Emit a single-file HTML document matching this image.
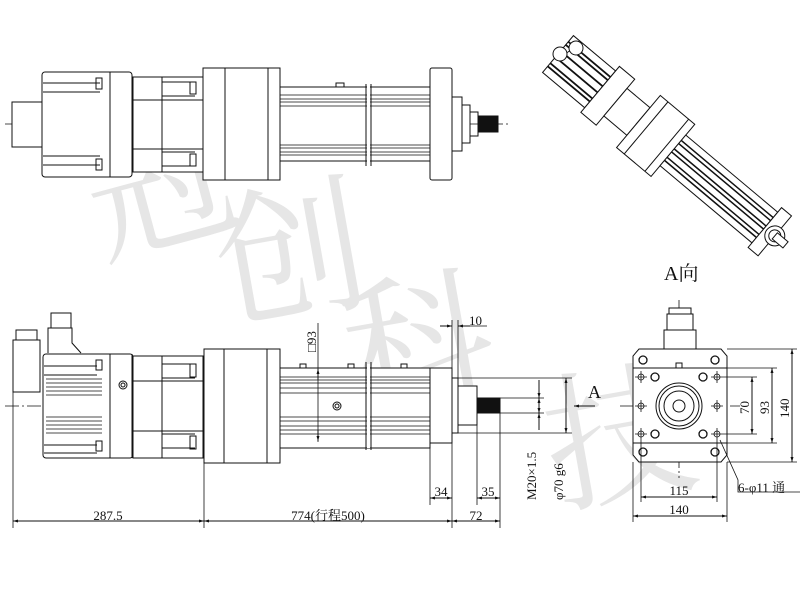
<!DOCTYPE html>
<html><head><meta charset="utf-8"><style>
html,body{margin:0;padding:0;background:#fff;width:800px;height:600px;overflow:hidden}
svg{display:block}
text{font-family:"Liberation Serif","Noto Serif CJK SC",serif;fill:#111}
</style></head><body>
<svg width="800" height="600" viewBox="0 0 800 600" xmlns="http://www.w3.org/2000/svg">
<defs>
<marker id="a" viewBox="0 0 10 10" refX="10" refY="5" markerWidth="6" markerHeight="5" orient="auto-start-reverse"><path d="M0,2 L10,5 L0,8z" fill="#111"/></marker>
</defs>
<!-- watermark -->
<g font-family="'Noto Serif CJK SC',serif" font-size="150">
<text x="80" y="240" transform="rotate(-15 150 170)" style="fill:#e6e6e6">冠</text>
<text x="215" y="310" transform="rotate(-10 280 250)" style="fill:#e6e6e6">创</text>
<text x="340" y="400" transform="rotate(-10 400 330)" style="fill:#e6e6e6">科</text>
<text x="540" y="490" transform="rotate(-10 620 410)" style="fill:#e6e6e6">技</text>
</g>
<g fill="none" stroke="#111" stroke-width="1">
<!-- TOP VIEW -->
<line x1="5" y1="124" x2="510" y2="124" stroke-dasharray="14,3,2,3" stroke-width="0.8"/>
<rect x="12" y="102" width="30" height="45" fill="#fff"/>
<rect x="42" y="72" width="90" height="105" rx="3" fill="#fff"/>
<line x1="110" y1="72" x2="110" y2="177"/>
<path d="M43,83H100 M43,92H100 M43,156H100 M43,165H100"/>
<rect x="96" y="78" width="6" height="11"/><rect x="96" y="159" width="6" height="11"/>
<rect x="133" y="77" width="70" height="95" fill="#fff"/>
<line x1="162" y1="77" x2="162" y2="172"/>
<path d="M133,100H203 M133,149H203 M162,82H195 M162,96H195 M162,152H195 M162,166H195"/>
<rect x="190" y="82" width="6" height="12"/><rect x="190" y="154" width="6" height="12"/>
<rect x="203" y="68" width="77" height="112" fill="#fff"/>
<line x1="225" y1="68" x2="225" y2="180"/><line x1="268" y1="68" x2="268" y2="180"/>
<rect x="280" y="87" width="150" height="74" fill="#fff"/>
<path d="M280,95H430 M280,99H430 M280,102H430 M280,106H430 M280,145H430 M280,148H430 M280,152H430 M280,155H430" stroke-width="0.8"/>
<rect x="336" y="83" width="8" height="4"/>
<path d="M366,84V166 M371,84V166" stroke="#111"/>
<rect x="367" y="85" width="3" height="80" fill="#fff" stroke="none"/>
<rect x="430" y="68" width="22" height="112" rx="2" fill="#fff"/>
<rect x="452" y="97" width="10" height="54" fill="#fff"/>
<rect x="462" y="105" width="8" height="38" fill="#fff"/>
<rect x="470" y="112" width="8" height="24"/>
<rect x="478" y="116" width="20" height="16" fill="#111"/>
<!-- BOTTOM VIEW -->
<line x1="5" y1="406" x2="470" y2="406" stroke-dasharray="14,3,2,3" stroke-width="0.8"/>
<rect x="13" y="340" width="27" height="52" fill="#fff"/>
<rect x="16" y="330" width="21" height="10" fill="#fff"/>
<path d="M48,353V328H72V343L81,353" fill="#fff"/>
<rect x="51" y="313" width="20" height="15" fill="#fff"/>
<rect x="43" y="354" width="90" height="104" rx="3" fill="#fff"/>
<path d="M110,354V458 M132,354V458"/>
<path d="M44,366H97 M44,375H97 M44,445H97 M44,453H97"/>
<path d="M46,379H102 M46,383H102 M46,387H102 M46,391H102 M46,395H102 M46,417H102 M46,421H102 M46,425H102 M46,429H102 M46,433H102" stroke-width="0.8"/>
<rect x="96" y="360" width="6" height="10"/><rect x="96" y="441" width="6" height="10"/>
<circle cx="123" cy="385" r="4"/><circle cx="123" cy="385" r="2"/>
<rect x="133" y="356" width="70" height="102" fill="#fff"/>
<path d="M133,381H203 M133,431H203 M162,356V458 M162,364H195 M162,378H195 M162,434H195 M162,448H195"/>
<rect x="190" y="364" width="6" height="13"/><rect x="190" y="436" width="6" height="13"/>
<rect x="204" y="349" width="76" height="114" fill="#fff"/>
<path d="M224,349V463 M267,349V463"/>
<rect x="280" y="368" width="150" height="80" fill="#fff"/>
<path d="M280,377H430 M280,380H430 M280,383H430 M280,388H430 M280,393H430 M280,417H430 M280,421H430 M280,426H430 M280,430H430 M280,434H430" stroke-width="0.8"/>
<rect x="300" y="364" width="6" height="4"/><rect x="348" y="364" width="6" height="4"/><rect x="401" y="364" width="6" height="4"/>
<circle cx="337" cy="406" r="4"/><circle cx="337" cy="406" r="2"/>
<path d="M366,362V450 M371,362V450"/>
<rect x="367" y="364" width="3" height="84" fill="#fff" stroke="none"/>
<rect x="430" y="368" width="22" height="75" fill="#fff"/>
<rect x="452" y="378" width="6" height="55" fill="#fff"/>
<rect x="458" y="386" width="19" height="39" fill="#fff"/>
<rect x="477" y="398" width="23" height="15" fill="#111"/>
<!-- dims bottom -->
<path d="M13,392V528 M204,463V528 M452,443V528 M500,413V528 M430,443V505 M477,425V505 M452,320V368 M458,320V378" stroke-width="0.8"/>
<line x1="13" y1="521" x2="204" y2="521" marker-start="url(#a)" marker-end="url(#a)"/>
<line x1="204" y1="521" x2="452" y2="521" marker-start="url(#a)" marker-end="url(#a)"/>
<line x1="452" y1="521" x2="500" y2="521" marker-start="url(#a)" marker-end="url(#a)"/>
<line x1="430" y1="498" x2="452" y2="498" marker-start="url(#a)" marker-end="url(#a)"/>
<line x1="477" y1="498" x2="500" y2="498" marker-start="url(#a)" marker-end="url(#a)"/>
<path d="M440,326H452 M458,326H487" stroke-width="0.8"/>
<path d="M440,326L452,326" marker-end="url(#a)"/><path d="M470,326L458,326" marker-end="url(#a)"/>
<line x1="318" y1="323" x2="318" y2="442" stroke-width="0.8"/>
<path d="M318,380V369" marker-end="url(#a)"/><path d="M318,430V441" marker-end="url(#a)"/>
<path d="M500,398H544 M500,413H544 M458,378H572 M458,433H572" stroke-width="0.8"/>
<line x1="539" y1="398" x2="539" y2="413" marker-start="url(#a)" marker-end="url(#a)"/>
<line x1="539" y1="380" x2="539" y2="398" marker-end="url(#a)"/>
<line x1="539" y1="430" x2="539" y2="413" marker-end="url(#a)"/>
<line x1="566" y1="378" x2="566" y2="433" marker-start="url(#a)" marker-end="url(#a)"/>
<line x1="595" y1="406" x2="574" y2="406" marker-end="url(#a)"/>
<!-- A VIEW -->
<line x1="679" y1="300" x2="679" y2="478" stroke-dasharray="14,3,2,3" stroke-width="0.8"/>
<line x1="620" y1="406" x2="740" y2="406" stroke-dasharray="14,3,2,3" stroke-width="0.8"/>
<rect x="664" y="330" width="32" height="19" fill="#fff"/>
<rect x="667" y="314" width="26" height="16" fill="#fff"/>
<rect x="669" y="308" width="22" height="6" fill="#fff"/>
<path d="M639,349H721L727,356V455L721,462H639L633,455V356Z" fill="#fff"/>
<path d="M633,368H727 M633,443H727"/>
<circle cx="679" cy="406" r="23"/><circle cx="679" cy="406" r="20"/><circle cx="679" cy="406" r="15"/><circle cx="679" cy="406" r="6"/>
<rect x="676" y="363" width="6" height="5"/>
<g stroke-width="1.3">
<circle cx="643" cy="360" r="4"/><circle cx="715" cy="360" r="4"/><circle cx="643" cy="452" r="4"/><circle cx="715" cy="452" r="4"/>
<circle cx="655" cy="377" r="4"/><circle cx="703" cy="377" r="4"/><circle cx="655" cy="434" r="4"/><circle cx="703" cy="434" r="4"/>
</g>
<g stroke-width="0.8">
<circle cx="641" cy="377" r="3"/><circle cx="717" cy="377" r="3"/><circle cx="641" cy="406" r="3"/><circle cx="717" cy="406" r="3"/><circle cx="641" cy="434" r="3"/><circle cx="717" cy="434" r="3"/>
<path d="M635,377H647M641,371V383 M711,377H723M717,371V383 M635,406H647M641,400V412 M711,406H723M717,400V412 M635,434H647M641,428V440 M711,434H723M717,428V440"/>
<path d="M723,377H757 M723,434H757 M727,368H777 M727,443H777 M727,349H797 M727,462H797"/>
<path d="M641,440V502 M717,440V502 M633,462V522 M727,462V522"/>
<path d="M720,440L738,480V492H800"/>
</g>
<line x1="752" y1="377" x2="752" y2="434" marker-start="url(#a)" marker-end="url(#a)"/>
<line x1="772" y1="368" x2="772" y2="443" marker-start="url(#a)" marker-end="url(#a)"/>
<line x1="792" y1="349" x2="792" y2="462" marker-start="url(#a)" marker-end="url(#a)"/>
<line x1="641" y1="497" x2="717" y2="497" marker-start="url(#a)" marker-end="url(#a)"/>
<line x1="633" y1="516" x2="727" y2="516" marker-start="url(#a)" marker-end="url(#a)"/>
<!-- ISO VIEW -->
<g transform="translate(558,54) rotate(40)">
<rect x="0" y="-24" width="55" height="48" fill="#fff"/>
<path d="M0,-16H55 M0,-12H55 M0,-4H55 M0,4H55 M0,12H55 M0,16H55" stroke-width="1.8"/>
<rect x="55" y="-30" width="20" height="60" fill="#fff"/>
<rect x="75" y="-18" width="30" height="36" fill="#fff"/>
<rect x="105" y="-34" width="45" height="68" fill="#fff"/>
<path d="M115,-34V34 M142,-34V34"/>
<rect x="150" y="-20" width="120" height="40" fill="#fff"/>
<path d="M150,-13H270 M150,-9H270 M150,-2H270 M150,2H270 M150,9H270 M150,13H270" stroke-width="1.5"/>
<rect x="270" y="-26" width="13" height="52" fill="#fff"/>
<circle cx="283" cy="0" r="10" fill="#fff"/><circle cx="283" cy="0" r="6"/>
<rect x="283" y="-4" width="14" height="8" fill="#fff"/>
</g>
<path d="M556,60L580,44" />
<circle cx="576" cy="48" r="7" fill="#fff"/><circle cx="560" cy="54" r="7" fill="#fff"/>
</g>
<!-- labels -->
<g font-size="13">
<text x="108" y="520" text-anchor="middle">287.5</text>
<text x="328" y="520" text-anchor="middle">774(行程500)</text>
<text x="476" y="520" text-anchor="middle">72</text>
<text x="441" y="496" text-anchor="middle">34</text>
<text x="488" y="496" text-anchor="middle">35</text>
<text x="469" y="325">10</text>
<text transform="translate(316,352) rotate(-90)">□93</text>
<text transform="translate(536,500) rotate(-90)">M20×1.5</text>
<text transform="translate(563,500) rotate(-90)">φ70 g6</text>
<text transform="translate(749,414) rotate(-90)">70</text>
<text transform="translate(769,414) rotate(-90)">93</text>
<text transform="translate(789,418) rotate(-90)">140</text>
<text x="679" y="495" text-anchor="middle">115</text>
<text x="679" y="514" text-anchor="middle">140</text>
<text x="738" y="492">6-φ11 通</text>
</g>
<text x="588" y="398" font-size="18">A</text>
<text x="664" y="280" font-size="20">A向</text>
</svg>
</body></html>
